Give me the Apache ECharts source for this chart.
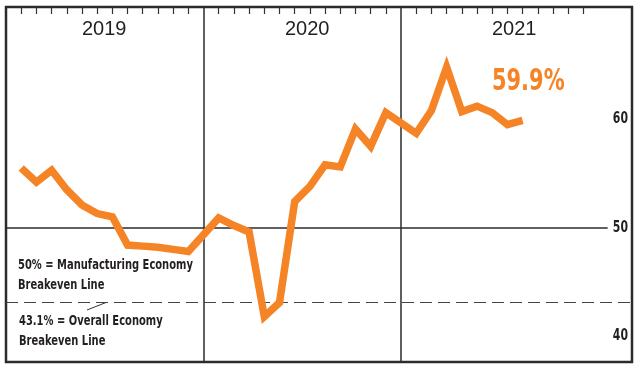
<!DOCTYPE html>
<html>
<head>
<meta charset="utf-8">
<script src="https://cdn.jsdelivr.net/npm/echarts@6/dist/echarts.min.js"></script>
<style>
html,body{margin:0;padding:0;background:#fff;}
#c{width:641px;height:371px;}
</style>
</head>
<body>
<div id="c"></div>
<script>
// ---- data ----
const years = ['2019', '2020', '2021'];
const pmi2019 = [55.5, 54.2, 55.3, 53.5, 52.1, 51.3, 51.0, 48.4, 48.3, 48.2, 48.0, 47.8];
const pmi2020 = [50.9, 50.2, 49.6, 41.8, 43.1, 52.4, 53.8, 55.8, 55.6, 59.1, 57.5, 60.6];
const pmi2021 = [58.7, 60.8, 64.8, 60.7, 61.2, 60.6, 59.5, 59.9];
const yTickLabels = [40, 50, 60];
const manufacturingBreakeven = 50;
const overallBreakeven = 43.1;
const latestLabel = '59.9%';

// ---- build ----
const SLOTS = 13; // 12 months + separator slot per year
const allYears = [pmi2019, pmi2020, pmi2021];
const lineData = [];
allYears.forEach((arr, yi) => arr.forEach((v, mi) => lineData.push([yi * SLOTS + mi + 1, v])));
const monthTicks = [];
years.forEach((y, yi) => { for (let m = 1; m <= 12; m++) monthTicks.push(yi * SLOTS + m); });
const dividers = [SLOTS, 2 * SLOTS];

const cond = '"DejaVu Sans",sans-serif';
const dark = '#231f20';
const orange = '#f58426';

const chart = echarts.init(document.getElementById('c'), null, {renderer: 'canvas'});
const baseGraphic = [
  {id: 'y0', type: 'text', left: 82, top: 19, style: {text: years[0], font: 'normal 20px "Liberation Sans",Arial,sans-serif', fill: dark}},
  {id: 'y1', type: 'text', left: 285, top: 19, style: {text: years[1], font: 'normal 20px "Liberation Sans",Arial,sans-serif', fill: dark}},
  {id: 'y2', type: 'text', left: 492, top: 19, style: {text: years[2], font: 'normal 20px "Liberation Sans",Arial,sans-serif', fill: dark}},
  {id: 'lat', type: 'text', x: 492, y: 82, scaleX: 0.675, style: {text: latestLabel, font: 'bold 31px ' + cond, fill: orange, verticalAlign: 'middle'}},
  {id: 'a1', type: 'text', x: 18, y: 265, scaleX: 0.686, style: {text: '50% = Manufacturing Economy', font: 'bold 14.5px ' + cond, fill: dark, verticalAlign: 'middle'}},
  {id: 'a2', type: 'text', x: 18, y: 285, scaleX: 0.686, style: {text: 'Breakeven Line', font: 'bold 14.5px ' + cond, fill: dark, verticalAlign: 'middle'}},
  {id: 'a3', type: 'text', x: 19, y: 321, scaleX: 0.686, style: {text: '43.1% = Overall Economy', font: 'bold 14.5px ' + cond, fill: dark, verticalAlign: 'middle'}},
  {id: 'a4', type: 'text', x: 19, y: 341, scaleX: 0.686, style: {text: 'Breakeven Line', font: 'bold 14.5px ' + cond, fill: dark, verticalAlign: 'middle'}},
  {id: 'lead', type: 'line', shape: {x1: 87, y1: 310, x2: 106, y2: 302.5}, style: {stroke: '#333', lineWidth: 1}}
];
const option = {
  animation: false,
  grid: {left: 6, top: 7, right: 9, bottom: 9, show: true, borderColor: '#2b2b2b', borderWidth: 2.5},
  xAxis: {
    type: 'value', min: 0, max: 41.2, position: 'top',
    axisLine: {show: false}, splitLine: {show: false}, axisLabel: {show: false},
    axisTick: {show: true, inside: true, length: 7, lineStyle: {color: '#333', width: 1.2}, customValues: monthTicks}
  },
  yAxis: {
    type: 'value', min: 37.62, max: 70.34, position: 'right',
    axisLine: {show: false}, axisTick: {show: false}, splitLine: {show: false},
    axisLabel: {show: false}
  },
  series: [
    {
      type: 'line', data: [], z: 1, silent: true,
      markLine: {
        symbol: 'none', silent: true, label: {show: false},
        data: [
          {xAxis: dividers[0], lineStyle: {color: '#2b2b2b', width: 1.5, type: 'solid'}},
          {xAxis: dividers[1], lineStyle: {color: '#2b2b2b', width: 1.5, type: 'solid'}},
          [{coord: [0, manufacturingBreakeven]}, {coord: [39.6, manufacturingBreakeven], lineStyle: {color: '#2b2b2b', width: 1.5, type: 'solid'}}],
          {yAxis: overallBreakeven, lineStyle: {color: '#444', width: 1.2, type: [12, 6]}}
        ]
      }
    },
    {
      type: 'line', data: lineData, z: 5, symbol: 'none', smooth: false,
      lineStyle: {color: orange, width: 7.5, join: 'miter', cap: 'butt'}
    }
  ],
  graphic: baseGraphic
};
chart.setOption(option);
// y tick labels placed through the y axis scale
const yLabelGraphics = yTickLabels.map((v, i) => ({
  id: 'yl' + i, type: 'text', x: 628, y: chart.convertToPixel({yAxisIndex: 0}, v), scaleX: 0.66,
  style: {text: String(v), font: 'bold 16.5px ' + cond, fill: dark, align: 'right', verticalAlign: 'middle'}
}));
chart.setOption({graphic: baseGraphic.concat(yLabelGraphics)});
</script>
</body>
</html>
